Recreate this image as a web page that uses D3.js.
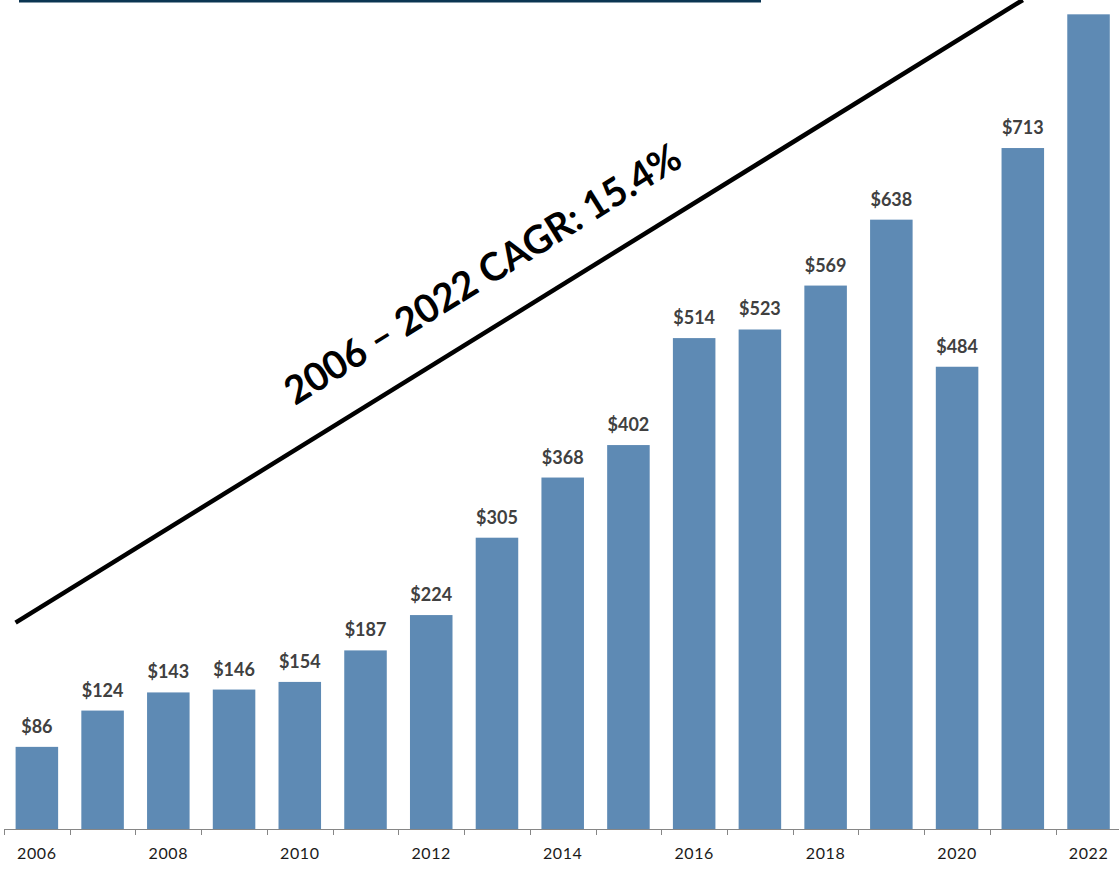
<!DOCTYPE html>
<html>
<head>
<meta charset="utf-8">
<script src="https://cdn.jsdelivr.net/npm/d3@7"></script>
<style>
  html, body { margin: 0; padding: 0; background: #ffffff; }
  svg { display: block; }
</style>
</head>
<body>
<svg id="chart" width="1119" height="870"></svg>
<script>
// Annual values ($), 2006 through 2022
const years = ["2006","2007","2008","2009","2010","2011","2012","2013","2014",
               "2015","2016","2017","2018","2019","2020","2021","2022"];
const values = [86, 124, 143, 146, 154, 187, 224, 305, 368, 402, 514, 523, 569, 638, 484, 713, 853];
const tickYears = ["2006","2008","2010","2012","2014","2016","2018","2020","2022"];
const cagrText = "2006 \u2013 2022 CAGR: 15.4%";

const W = 1119, H = 870;
const baseY = 829;
const svg = d3.select("#chart");

const x = d3.scaleBand()
  .domain(years)
  .range([4, 1121.4])
  .paddingInner(0.353)
  .paddingOuter(0.1765);

const y = d3.scaleLinear()
  .domain([0, 868])
  .range([baseY, 0]);

// header rule
svg.append("rect")
  .attr("x", 19).attr("y", 0)
  .attr("width", 742).attr("height", 2.5)
  .attr("fill", "#0b3552");

// bars
svg.append("g").selectAll("rect")
  .data(years.map((yr, i) => ({ yr, v: values[i] })))
  .join("rect")
  .attr("x", d => x(d.yr))
  .attr("y", d => y(d.v))
  .attr("width", x.bandwidth())
  .attr("height", d => baseY - y(d.v))
  .attr("fill", "#5e8ab4");

// value labels (those that fit on the page)
svg.append("g").selectAll("text")
  .data(years.map((yr, i) => ({ yr, v: values[i] })).filter(d => y(d.v) - 14 > 20))
  .join("text")
  .attr("x", d => x(d.yr) + x.bandwidth() / 2)
  .attr("y", d => y(d.v) - 14)
  .attr("text-anchor", "middle")
  .attr("font-family", "Lato, 'Open Sans', sans-serif")
  .attr("font-weight", 700)
  .attr("font-size", 18)
  .attr("fill", "#404040")
  .text(d => "$" + d.v);

// category axis: baseline, boundary ticks, alternate-year labels
const axis = svg.append("g");
const step = x.step();
const left = x.range()[0];
axis.append("line")
  .attr("x1", left).attr("x2", W)
  .attr("y1", baseY + 0.5).attr("y2", baseY + 0.5)
  .attr("stroke", "#868686").attr("stroke-width", 1.2);
axis.selectAll("line.tick")
  .data(d3.range(years.length + 1))
  .join("line")
  .attr("class", "tick")
  .attr("x1", i => Math.round(left + i * step) + 0.5)
  .attr("x2", i => Math.round(left + i * step) + 0.5)
  .attr("y1", baseY).attr("y2", baseY + 6)
  .attr("stroke", "#868686").attr("stroke-width", 1);
axis.selectAll("text")
  .data(tickYears)
  .join("text")
  .attr("x", d => x(d) + x.bandwidth() / 2)
  .attr("y", 859)
  .attr("text-anchor", "middle")
  .attr("font-family", "Lato, 'Open Sans', sans-serif")
  .attr("font-size", 16)
  .attr("letter-spacing", 0.6)
  .attr("fill", "#1a1a1a")
  .text(d => d);

// CAGR trend annotation
const x0 = x("2006"), y0 = y(216);
const x1 = x("2021") + x.bandwidth() / 2, y1 = y(868);
svg.append("line")
  .attr("x1", x0).attr("y1", y0)
  .attr("x2", x1).attr("y2", y1)
  .attr("stroke", "#000").attr("stroke-width", 4.5);

const angle = Math.atan2(y1 - y0, x1 - x0) * 180 / Math.PI;
const tx = 295, ty = y0 + (tx - x0) * (y1 - y0) / (x1 - x0) - 44;
const label = svg.append("text")
  .attr("transform", `translate(${tx},${ty}) rotate(${angle})`)
  .attr("font-family", "Lato, 'Open Sans', sans-serif")
  .attr("font-weight", 700)
  .attr("font-size", 39)
  .attr("fill", "#000")
  .text(cagrText);
// fit annotation to its run along the trend line
label.attr("textLength", 458).attr("lengthAdjust", "spacingAndGlyphs");
</script>
</body>
</html>
